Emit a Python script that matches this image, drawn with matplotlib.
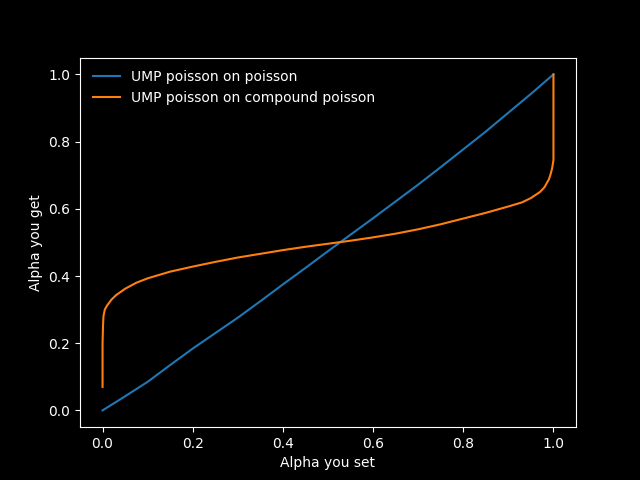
import matplotlib
matplotlib.use("Agg")
import matplotlib.pyplot as plt

# alpha set vs alpha obtained
alpha_set_p = [0.0, 0.05, 0.1, 0.15, 0.2, 0.25, 0.3, 0.35, 0.4, 0.45, 0.5,
               0.55, 0.6, 0.65, 0.7, 0.75, 0.8, 0.85, 0.9, 0.95, 1.0]
alpha_get_p = [0.0, 0.042, 0.085, 0.135, 0.184, 0.23, 0.276, 0.325, 0.375, 0.424, 0.474,
               0.523, 0.572, 0.622, 0.672, 0.724, 0.777, 0.83, 0.886, 0.942, 1.0]

alpha_set_cp = [0.0, 0.0, 0.001, 0.002, 0.005, 0.01, 0.02, 0.03, 0.05, 0.075, 0.1,
                0.15, 0.2, 0.25, 0.3, 0.35, 0.4, 0.45, 0.5, 0.55, 0.6, 0.65, 0.7,
                0.75, 0.8, 0.85, 0.9, 0.93, 0.95, 0.97, 0.98, 0.99, 0.993, 0.997,
                1.0, 1.0]
alpha_get_cp = [0.07, 0.2, 0.25, 0.28, 0.30, 0.312, 0.33, 0.343, 0.362, 0.38, 0.393,
                0.413, 0.428, 0.442, 0.455, 0.466, 0.477, 0.487, 0.496, 0.505, 0.515,
                0.526, 0.539, 0.554, 0.571, 0.588, 0.607, 0.619, 0.632, 0.65, 0.664,
                0.688, 0.70, 0.72, 0.745, 1.0]

plt.style.use("dark_background")
fig, ax = plt.subplots(figsize=(6.4, 4.8), dpi=100)
ax.plot(alpha_set_p, alpha_get_p, color="#1f77b4", label="UMP poisson on poisson")
ax.plot(alpha_set_cp, alpha_get_cp, color="#ff7f0e", label="UMP poisson on compound poisson")
ax.set_xlabel("Alpha you set")
ax.set_ylabel("Alpha you get")
ax.legend(loc="upper left", edgecolor="black")
fig.savefig("out.png")
